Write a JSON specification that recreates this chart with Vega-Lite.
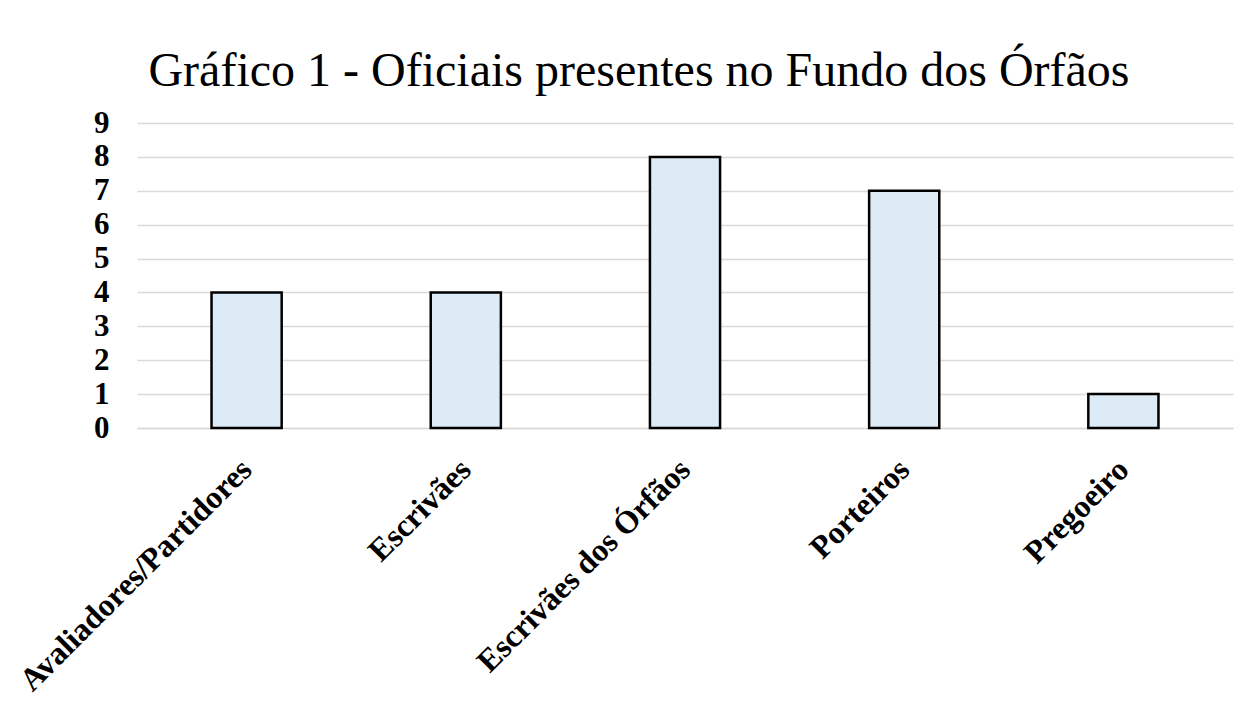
{
  "$schema": "https://vega.github.io/schema/vega-lite/v6.json",
  "autosize": {"type": "none"},
  "width": 1096,
  "height": 305,
  "padding": {"left": 137, "top": 123, "right": 21, "bottom": 276},
  "background": "white",
  "title": {
    "text": "Gráfico 1 - Oficiais presentes no Fundo dos Órfãos",
    "font": "Liberation Serif",
    "fontSize": 48,
    "fontWeight": "normal",
    "color": "#000000",
    "anchor": "middle",
    "frame": "group",
    "dx": -46,
    "offset": 11
  },
  "data": {
    "values": [
      {"oficial": "Avaliadores/Partidores", "n": 4},
      {"oficial": "Escrivães", "n": 4},
      {"oficial": "Escrivães dos Órfãos", "n": 8},
      {"oficial": "Porteiros", "n": 7},
      {"oficial": "Pregoeiro", "n": 1}
    ]
  },
  "mark": {"type": "bar", "fill": "#DDEBF7", "stroke": "#000000", "strokeWidth": 2.5},
  "encoding": {
    "x": {
      "field": "oficial",
      "type": "nominal",
      "sort": null,
      "scale": {"paddingInner": 0.68, "paddingOuter": 0.34},
      "axis": {
        "title": null,
        "labelAngle": -45,
        "labelAlign": "right",
        "labelBaseline": "middle",
        "labelFont": "Liberation Serif",
        "labelFontWeight": "bold",
        "labelFontSize": 32,
        "labelColor": "#000000",
        "labelPadding": 36,
        "ticks": false,
        "domain": true,
        "domainColor": "#d9d9d9",
        "domainWidth": 1.5,
        "labelLimit": 500
      }
    },
    "y": {
      "field": "n",
      "type": "quantitative",
      "scale": {"domain": [0, 9], "nice": false},
      "axis": {
        "title": null,
        "values": [0, 1, 2, 3, 4, 5, 6, 7, 8, 9],
        "labelFont": "Liberation Serif",
        "labelFontWeight": "bold",
        "labelFontSize": 31,
        "labelColor": "#000000",
        "labelPadding": 28,
        "ticks": false,
        "domain": false,
        "grid": true,
        "gridColor": "#d9d9d9",
        "gridWidth": 1.5
      }
    }
  },
  "config": {"view": {"stroke": null}}
}
